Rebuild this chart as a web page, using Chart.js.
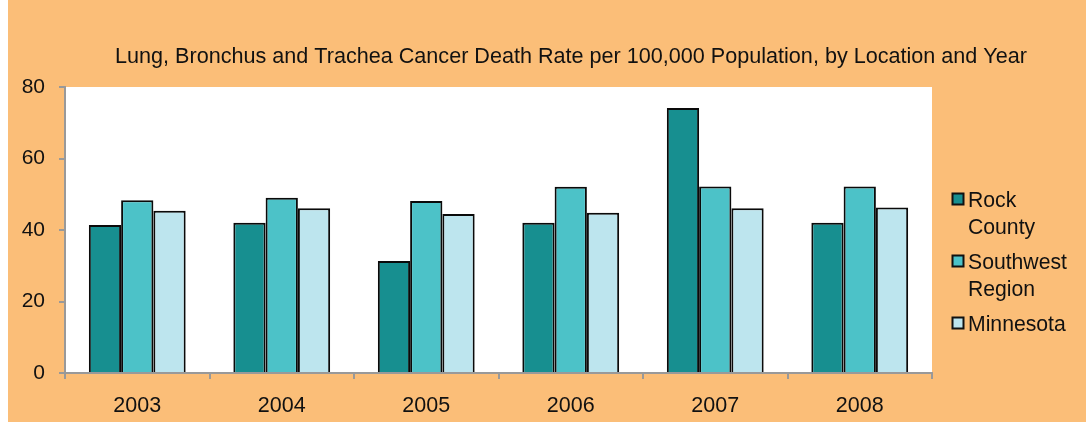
<!DOCTYPE html>
<html>
<head>
<meta charset="utf-8">
<script src="https://cdn.jsdelivr.net/npm/chart.js@4"></script>
<style>
  body { margin: 0; background: #fff; }
  .box { position: absolute; left: 8px; top: 0; width: 1078px; height: 422px; background: #fbbe78; }
</style>
</head>
<body>
<div class="box"><canvas id="chart" width="1078" height="422"></canvas></div>
<script>
const years = ['2003', '2004', '2005', '2006', '2007', '2008'];
const rockCounty = [41.4, 42, 31.3, 42, 74.1, 42];
const southwestRegion = [48.3, 49, 48.1, 52.1, 52.2, 52.2];
const minnesota = [45.4, 46.1, 44.5, 44.8, 46.1, 46.3];
const seriesNames = [['Rock', 'County'], ['Southwest', 'Region'], ['Minnesota']];
const yTicks = [0, 20, 40, 60, 80];
const titleText = 'Lung, Bronchus and Trachea Cancer Death Rate per 100,000 Population, by Location and Year';

const font = 'Liberation Sans, Arial, sans-serif';

// white plot area, title and the wrapped legend
const decor = {
  id: 'decor',
  beforeDraw(chart) {
    const { ctx, chartArea: a } = chart;
    ctx.save();
    ctx.fillStyle = '#fff';
    ctx.fillRect(a.left, a.top, a.right - a.left, a.bottom - a.top);
    ctx.restore();
  },
  afterDraw(chart) {
    const ctx = chart.ctx;
    ctx.save();
    ctx.fillStyle = '#111';
    ctx.font = '21.6px ' + font;
    ctx.textAlign = 'center';
    ctx.textBaseline = 'middle';
    ctx.fillText(titleText, 563, 57);

    ctx.font = '21.2px ' + font;
    ctx.textAlign = 'left';
    let y = 200;
    chart.data.datasets.forEach((ds, i) => {
      ctx.fillStyle = ds.backgroundColor;
      ctx.fillRect(944.5, y - 6.5, 11, 11);
      ctx.strokeStyle = '#111';
      ctx.lineWidth = 2;
      ctx.strokeRect(944.5, y - 6.5, 11, 11);
      ctx.fillStyle = '#111';
      seriesNames[i].forEach((line, j) => {
        ctx.fillText(line, 960, y + 1 + j * 27);
      });
      y += (seriesNames[i].length - 1) * 27 + 35;
    });
    ctx.restore();
  }
};

const barStyle = { borderColor: '#0a0a0a', borderWidth: 2, borderSkipped: 'start', categoryPercentage: 0.67, barPercentage: 1.0 };

new Chart(document.getElementById('chart'), {
  type: 'bar',
  data: {
    labels: years,
    datasets: [
      { label: 'Rock County', data: rockCounty, backgroundColor: '#178f90', ...barStyle },
      { label: 'Southwest Region', data: southwestRegion, backgroundColor: '#4cc2c8', ...barStyle },
      { label: 'Minnesota', data: minnesota, backgroundColor: '#bde5ee', ...barStyle }
    ]
  },
  options: {
    responsive: false,
    animation: false,
    layout: { padding: { top: 87, right: 154, left: 0, bottom: 0 } },
    plugins: { legend: { display: false }, title: { display: false }, tooltip: { enabled: false } },
    scales: {
      x: {
        grid: { offset: true, drawOnChartArea: false, tickLength: 6, color: '#999', lineWidth: 2 },
        border: { color: '#999', width: 2 },
        ticks: { color: '#111', font: { size: 21.5, family: font }, padding: 14 },
        afterFit(scale) { scale.height = 49; }
      },
      y: {
        min: 0,
        max: 80,
        afterBuildTicks(scale) { scale.ticks = yTicks.map(v => ({ value: v })); },
        grid: { drawOnChartArea: false, tickLength: 6, color: '#999', lineWidth: 2 },
        border: { color: '#999', width: 2 },
        ticks: { color: '#111', font: { size: 21, family: font }, padding: 14 },
        afterFit(scale) { scale.width = 57; }
      }
    }
  },
  plugins: [decor]
});
</script>
</body>
</html>
